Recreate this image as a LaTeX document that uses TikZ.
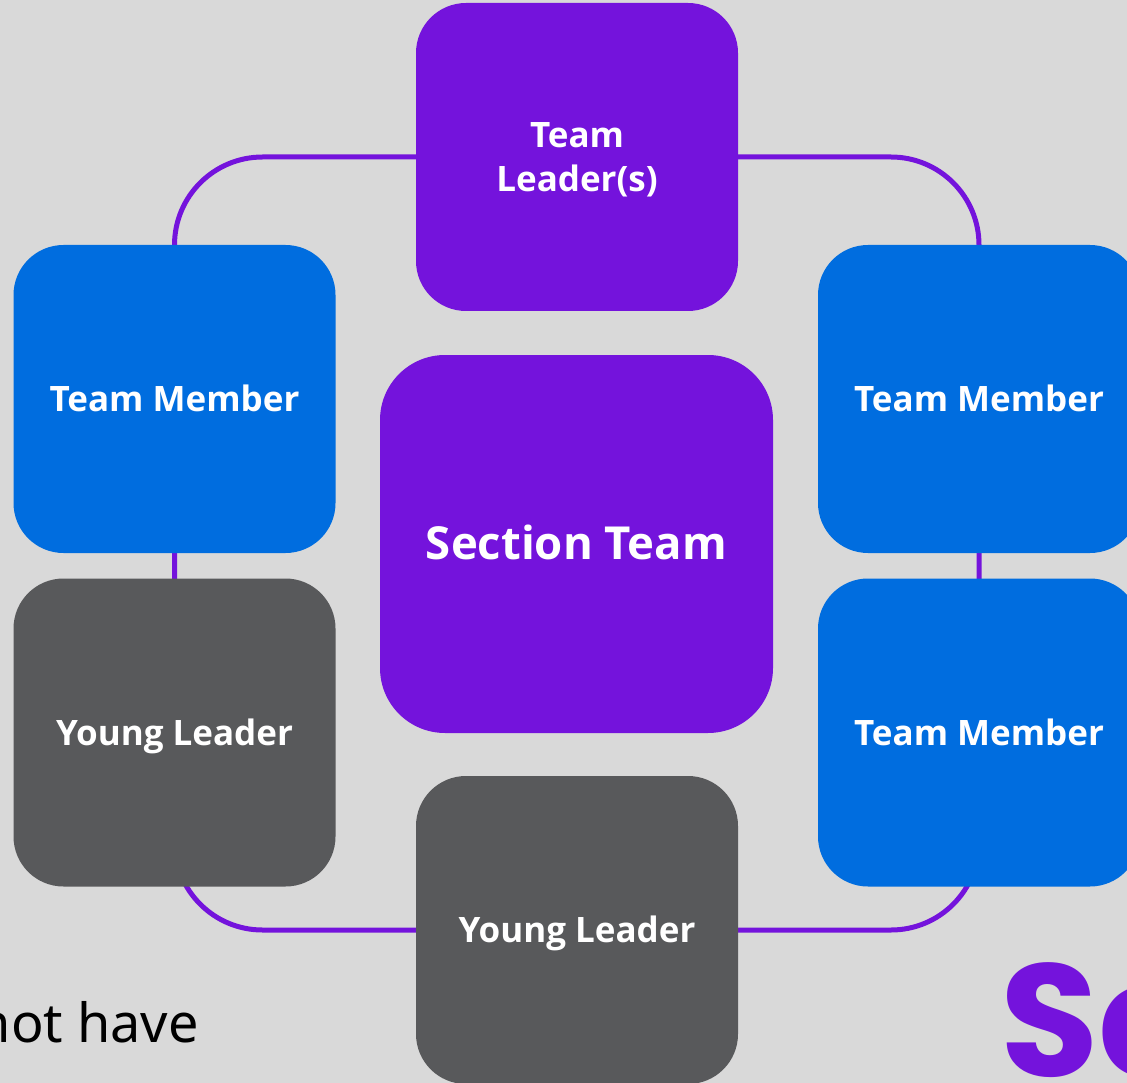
\documentclass[tikz,border=0pt]{standalone}
\usepackage{fontspec}
\setmainfont{Open Sans}
\newfontfamily\bodyfont{Noto Sans}
\newfontfamily\logofont{Poppins}
\usetikzlibrary{backgrounds}
\definecolor{pagebg}{HTML}{D9D9D9}
\definecolor{spurple}{HTML}{7413DC}
\definecolor{sblue}{HTML}{006DDF}
\definecolor{sgrey}{HTML}{58595B}
\begin{document}
\begin{tikzpicture}[x=1pt,y=-1pt,
  box/.style={rounded corners=50pt, minimum width=322pt, minimum height=308pt,
    text=white, inner sep=0pt, align=center,
    font=\bfseries\fontsize{35}{44}\selectfont},
  oneline/.style={text height=34pt, text depth=9pt},
  purplebox/.style={box, fill=spurple},
  bluebox/.style={box, oneline, fill=sblue},
  greybox/.style={box, oneline, fill=sgrey},
  ring/.style={draw=spurple, line width=5pt, rounded corners=88pt}]
\useasboundingbox (0,0) rectangle (1127,1083);
\clip (0,0) rectangle (1127,1083);

% team boxes
\node[purplebox] (tl) at (577,157) {\rule{0pt}{30pt}Team\\Leader(s)};
\node[bluebox] (tml) at (174.5,399) {Team Member};
\node[greybox] (yll) at (174.5,732.5) {Young Leader};
\node[greybox] (ylb) at (577,930) {Young Leader};
\node[bluebox] (tmr) at (979,399) {Team Member};
\node[bluebox] (tmr2) at (979,732.5) {Team Member};
\node[purplebox, rounded corners=65pt, minimum width=393pt, minimum height=378pt,
  text height=42.5pt, text depth=11.5pt,
  font=\bfseries\fontsize{45.5}{54}\selectfont] (st) at (576.5,544) {Section Team};

% fragments of surrounding slide text
\node[anchor=base east, inner sep=0pt, font=\bodyfont\fontsize{54}{60}\selectfont]
  (note) at (199,1042) {not have};
\node[anchor=base west, inner sep=0pt, text=spurple,
  font=\logofont\bfseries\fontsize{160}{170}\selectfont] (logo) at (1000,1076) {Sc};

\begin{pgfonlayer}{background}
  \fill[pagebg] (0,0) rectangle (1127,1083);
  % ring linking the team around the section
  \draw[ring] (tl.west) -| (tml.center) |- (ylb.west);
  \draw[ring] (ylb.east) -| (tmr2.center) |- (tl.east);
\end{pgfonlayer}
\end{tikzpicture}
\end{document}
